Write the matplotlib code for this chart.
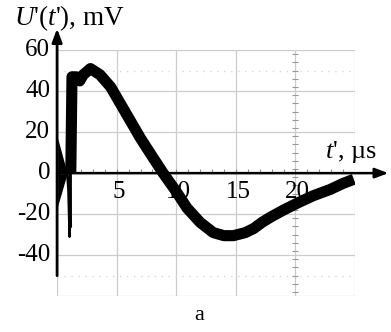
import numpy as np
import matplotlib
matplotlib.use("Agg")
import matplotlib.pyplot as plt

plt.rcParams['font.family'] = ['Liberation Serif', 'DejaVu Serif']
plt.rcParams['mathtext.fontset'] = 'custom'
plt.rcParams['mathtext.it'] = 'Liberation Serif:italic'
plt.rcParams['mathtext.rm'] = 'Liberation Serif'

# noisy start of the trace (envelope of the ringing, then the spike)
t_env = [0.0, 0.85]
u_env_top = [18, 0]
u_env_bot = [-17, 0]
t_spike = [0.85, 0.95, 1.05, 1.1, 1.15]
u_spike = [0, -8, -31, 10, -26]

# main trace
t_main = [1.15, 1.25, 1.6, 1.9, 2.2, 2.8, 3.6, 4.5, 5.3, 6.0, 7.0, 8.0, 8.9,
          10.0, 10.9, 12.0, 13.1, 14.0, 14.8, 15.8, 16.5, 17.2, 17.9, 19.0,
          20.2, 21.5, 22.9, 24.0, 24.9]
u_main = [0, 47, 47, 45, 48, 51, 48, 42, 34, 27, 17, 8, 0,
          -9, -17, -24, -29, -30.5, -30.5, -29, -27, -24, -21.5, -18,
          -14.5, -11, -8, -5, -3]

xticks = [5, 10, 15, 20]
yticks = [-40, -20, 0, 20, 40, 60]
xgrid = [0, 5, 10, 15, 20, 25]
ygrid = [-60, -40, -20, 0, 20, 40, 60]
ydotted = [-50, 50]

fig = plt.figure(figsize=(3.91, 3.32), dpi=100)
ax = fig.add_axes([0.146, 0.108, 0.762, 0.741])
ax.set_xlim(0, 25)
ax.set_ylim(-60, 60)
for s in ax.spines.values():
    s.set_visible(False)
ax.set_xticks(xgrid)
ax.set_yticks(ygrid)
ax.tick_params(length=0, labelbottom=False, labelleft=False)
ax.grid(True, color='#cccccc', lw=0.9)
for yd in ydotted:
    ax.axhline(yd, color='#d8d8d8', lw=1.0, ls=(0, (1, 4)))

# small graduation marks along t=20 and along the zero line
ax.plot([20] * 30, np.arange(-58, 60, 4), ls='none', marker='_', ms=4,
        color='#999999', mew=0.8)
ax.plot(np.arange(1, 25, 1), [0.8] * 24, ls='none', marker='|', ms=3,
        color='#888888', mew=0.8)

# trace
ax.fill_between(t_env, u_env_bot, u_env_top, color='black', lw=0)
ax.plot(t_spike, u_spike, color='black', lw=1.8)
ax.plot(t_main, u_main, color='black', lw=8, solid_joinstyle='round',
        solid_capstyle='butt')

# axes arrows
ax.annotate('', xy=(27.8, 0), xytext=(0, 0), annotation_clip=False,
            arrowprops=dict(arrowstyle='-|>,head_length=0.8,head_width=0.3',
                            color='black', lw=1.8, shrinkA=0, shrinkB=0))
ax.annotate('', xy=(0, 70.5), xytext=(0, -50), annotation_clip=False,
            arrowprops=dict(arrowstyle='-|>,head_length=0.8,head_width=0.3',
                            color='black', lw=2.0, shrinkA=0, shrinkB=0))

# tick labels
for v in yticks:
    ax.annotate(str(v), xy=(0, v), xytext=(-5, 0), textcoords='offset points',
                ha='right', va='center', fontsize=18, annotation_clip=False)
for v in xticks:
    ax.annotate(str(v), xy=(v, 0), xytext=(1.5, -6), textcoords='offset points',
                ha='center', va='top', fontsize=18, annotation_clip=False)

fig.text(0.035, 0.925, r"$U$'($t$'), mV", fontsize=19.5, ha='left', va='baseline')
fig.text(0.83, 0.525, r"$t$', µs", fontsize=19, ha='left', va='baseline')
fig.text(0.51, 0.035, "a", fontsize=16, ha='center', va='baseline')

fig.savefig('out.png', dpi=100)
